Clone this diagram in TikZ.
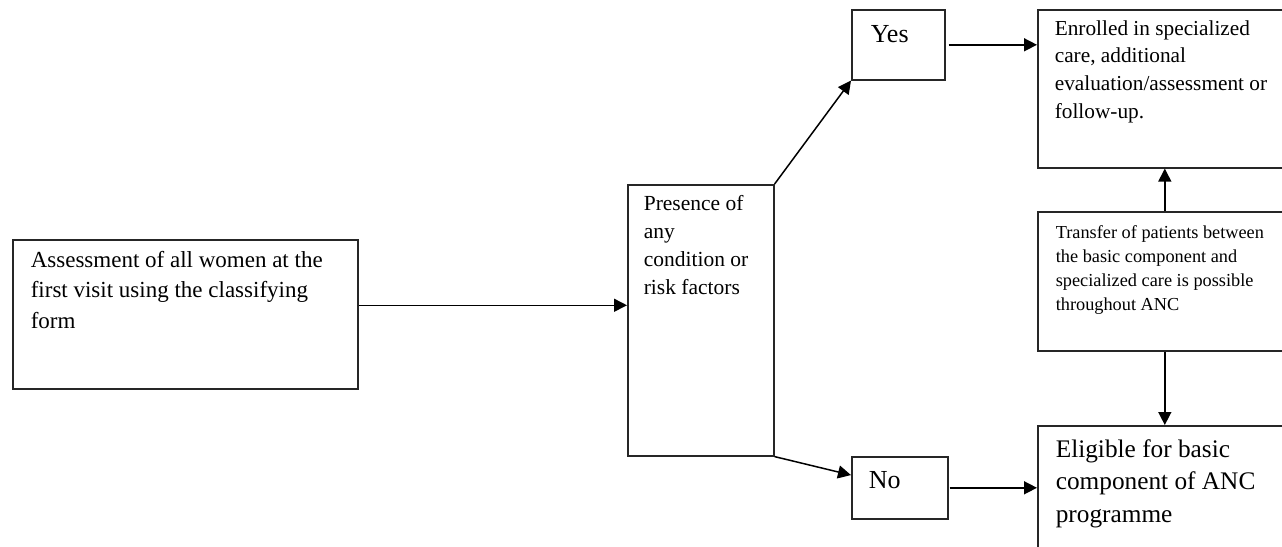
\documentclass[tikz,border=0pt]{standalone}
\usepackage{fontspec}
\setmainfont{Liberation Serif}
\usetikzlibrary{arrows.meta,calc,positioning}

\begin{document}
\begin{tikzpicture}[x=1pt, y=-1pt, line width=1.6pt,
  blk/.style 2 args={draw=black!85, anchor=north west, inner sep=0pt, minimum width=#1, minimum height=#2},
  txt/.style={anchor=base west, align=left, inner sep=0pt},
  arr/.style={line width=1.5pt, -{Triangle[length=13pt,width=13pt]}}]
\clip (0,0) rectangle (1282,546);
\fill[white] (0,0) rectangle (1282,546);

\node[blk={345}{149}] (asm) at (12,239) {};
\node[blk={146}{271}] (pres) at (627,184) {};
\node[blk={93}{70}] (yes) at (851,9) {};
\node[blk={96}{62}] (no) at (851,456) {};
\node[blk={254}{158}] (enr) at (1037,9) {};
\node[blk={254}{139}] (trn) at (1037,211) {};
\node[blk={254}{130}] (elig) at (1037,425) {};

% base anchor sits on the last line, so shift by the lines above it
\node[txt, font=\fontsize{23}{30.5}\selectfont] (asmtext) at ($(asm.north west)+(18,28+2*30.5)$)
  {Assessment of all women at the\\first visit using the classifying\\form};
\node[txt, font=\fontsize{21.5}{28.3}\selectfont] (prestext) at ($(pres.north west)+(16,26+3*28.3)$)
  {Presence of\\any\\condition or\\risk factors};
\node[txt, font=\fontsize{26}{30}\selectfont] (yestext) at ($(yes.north west)+(19,33)$) {Yes};
\node[txt, font=\fontsize{26}{30}\selectfont] (notext) at ($(no.north west)+(17,32)$) {No};
\node[txt, font=\fontsize{21.3}{27.7}\selectfont] (enrtext) at ($(enr.north west)+(17,26+3*27.7)$)
  {Enrolled in specialized\\care, additional\\evaluation/assessment or\\follow-up.};
\node[txt, font=\fontsize{18.3}{24}\selectfont] (trntext) at ($(trn.north west)+(18,27+3*24)$)
  {Transfer of patients between\\the basic component and\\specialized care is possible\\throughout ANC};
\node[txt, font=\fontsize{25.3}{32.5}\selectfont] (eligtext) at ($(elig.north west)+(18,32+2*32.5)$)
  {Eligible for basic\\component of ANC\\programme};

\coordinate (a1) at ($(asm.north east)!.44!(asm.south east)$);
\draw[arr] (a1) -- (a1 -| pres.west);
\draw[arr] (pres.north east) -- (yes.south west);
\draw[arr] (pres.south east) -- ($(no.north west)!.3!(no.south west)$);
\draw[arr] ([xshift=3pt]yes.east) -- (yes.east -| enr.west);
\draw[arr] ([xshift=1pt]no.east) -- (no.east -| elig.west);
\draw[arr] (trn.north) -- (enr.south);
\draw[arr] (trn.south) -- (elig.north);
\end{tikzpicture}
\end{document}
